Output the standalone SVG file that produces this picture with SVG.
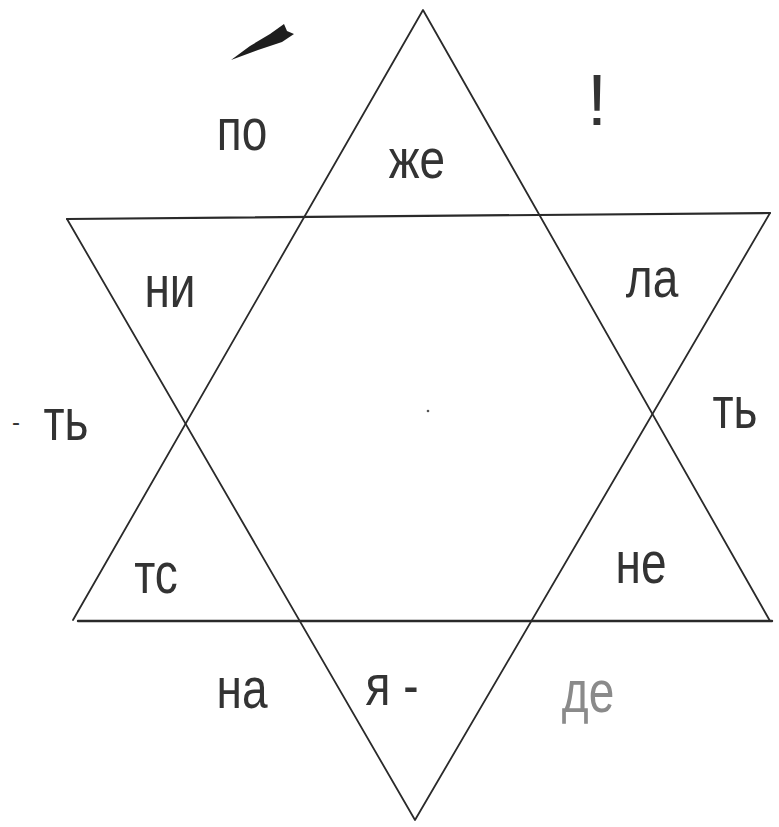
<svg xmlns="http://www.w3.org/2000/svg" width="779" height="827" viewBox="0 0 779 827">
<style>
.ln{stroke:#2a2a2a;stroke-width:1.8;fill:none;stroke-linecap:round;stroke-linejoin:round}
.t{font-family:"Liberation Sans","DejaVu Sans",sans-serif;font-size:46px;fill:#333333;text-anchor:middle}
</style>
<rect width="779" height="827" fill="#ffffff"/>
<g id="connectors">
<polyline class="ln" points="73,620 423,10 770,621"/>
<line class="ln" x1="78" y1="621" x2="772" y2="621" style="stroke-width:2.4"/>
<polyline class="ln" points="67,219 415,820 770,213"/>
<line class="ln" x1="67" y1="219" x2="770" y2="213" style="stroke-width:2.2"/>
</g>
<g id="mark">
<path d="M231,60 L250,46 L270,34 L284,24 L287,31 L294,34 L282,42 L258,50 Z" fill="#1e1e1e"/>
</g>
<g id="texts">
<text id="n-po" class="t" transform="translate(242,150) scale(1,1.3)">по</text>
<text id="n-zhe" class="t" transform="translate(417,178) scale(1,1.2)">же</text>
<text id="n-excl" class="t" x="597" y="125" style="font-size:72px;font-weight:300">!</text>
<text id="n-ni" class="t" transform="translate(170,307) scale(1,1.3)">ни</text>
<text id="n-la" class="t" transform="translate(652,297) scale(1,1.2)">ла</text>
<text id="n-dash" class="t" x="16" y="430" style="font-size:24px">-</text>
<text id="n-t1" class="t" transform="translate(66,440) scale(1,1.3)">ть</text>
<text id="n-t2" class="t" transform="translate(735,428) scale(1,1.3)">ть</text>
<text id="n-ts" class="t" transform="translate(156,593) scale(1,1.25)">тс</text>
<text id="n-ne" class="t" transform="translate(641,583) scale(1,1.3)">не</text>
<text id="n-na" class="t" transform="translate(242,708) scale(1,1.25)">на</text>
<text id="n-ya" class="t" transform="translate(392,705) scale(1,1.25)">я -</text>
<text id="n-de" class="t" transform="translate(588,712) scale(1,1.3)" style="fill:#8a8a8a">де</text>
</g>
<circle cx="428" cy="411" r="1.3" fill="#555"/>
</svg>
